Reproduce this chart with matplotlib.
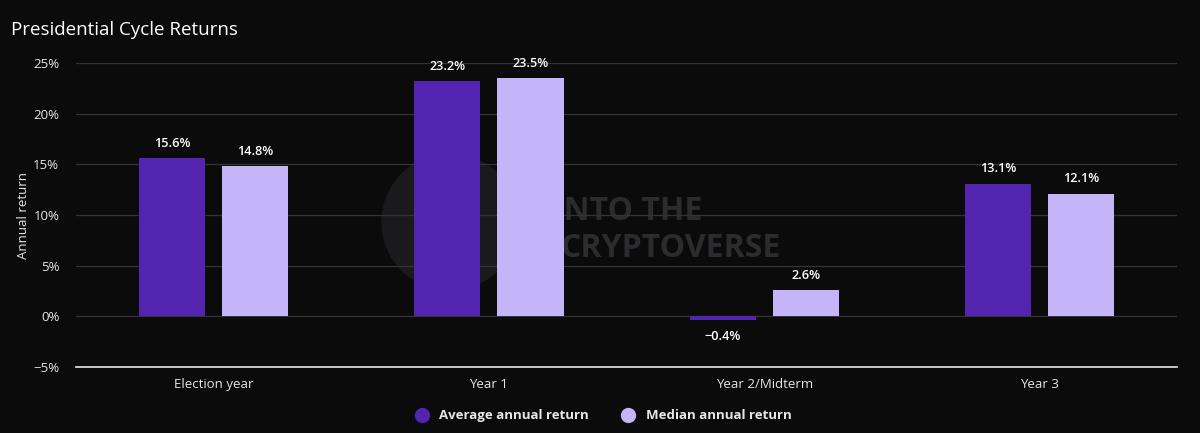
import matplotlib
matplotlib.use("Agg")
import matplotlib.pyplot as plt
from matplotlib.patches import Ellipse
import numpy as np

categories = ["Election year", "Year 1", "Year 2/Midterm", "Year 3"]
average_return = [15.6, 23.2, -0.4, 13.1]
median_return = [14.8, 23.5, 2.6, 12.1]
yticks = [-5, 0, 5, 10, 15, 20, 25]

bg = "#0b0b0c"
c_avg = "#5224b0"
c_med = "#c4b5f8"

plt.rcParams['font.family'] = ['Open Sans', 'DejaVu Sans']

fig = plt.figure(figsize=(12, 4.33), dpi=100, facecolor=bg)
ax = fig.add_axes([0.0633, 0.1524, 0.9177, 0.7021], facecolor=bg)

x = np.arange(len(categories))
w = 0.24
off = 0.151
b1 = ax.bar(x - off, average_return, w, color=c_avg, zorder=3, label="Average annual return")
b2 = ax.bar(x + off, median_return, w, color=c_med, zorder=3, label="Median annual return")

for bars, vals in ((b1, average_return), (b2, median_return)):
    for r, v in zip(bars, vals):
        cx = r.get_x() + r.get_width() / 2
        if v >= 0:
            ax.annotate(f"{v:.1f}%", (cx, v), xytext=(0, 6), textcoords="offset points",
                        ha="center", va="bottom", color="white", fontsize=9.2, fontweight="semibold")
        else:
            ax.annotate(f"\u2212{abs(v):.1f}%", (cx, v), xytext=(0, -7), textcoords="offset points",
                        ha="center", va="top", color="white", fontsize=9.2, fontweight="semibold")

ax.set_xlim(-0.5, len(categories) - 0.5)
ax.set_ylim(-5, 25)
ax.set_yticks(yticks)
ax.set_yticklabels([f"\u2212{abs(t)}%" if t < 0 else f"{t}%" for t in yticks])
ax.set_xticks(x)
ax.set_xticklabels(categories)
ax.tick_params(axis="both", colors="#e6e6e6", labelsize=9.5, length=0)
ax.tick_params(axis="y", pad=12)
ax.tick_params(axis="x", pad=8)
ax.grid(axis="y", color="#333336", linewidth=0.9, zorder=0)
for s in ["top", "right", "left"]:
    ax.spines[s].set_visible(False)
ax.spines["bottom"].set_color("#e6e6e6")
ax.spines["bottom"].set_linewidth(1.2)
ax.spines["bottom"].set_zorder(4)

ax.set_ylabel("Annual return", color="#e6e6e6", fontsize=9.5, labelpad=2)

# watermark
circ = Ellipse((450 / 1200, 1 - 222 / 433), 136 / 1200, 136 / 433, transform=fig.transFigure,
               color="#1a1a1c", zorder=1)
ax.add_patch(circ)
ax.text(0.433, 0.51, "INTO THE", transform=ax.transAxes, color="#2c2c2e", fontsize=23,
        fontweight="bold", ha="left", va="center", zorder=1)
ax.text(0.440, 0.39, "CRYPTOVERSE", transform=ax.transAxes, color="#2c2c2e", fontsize=23,
        fontweight="bold", ha="left", va="center", zorder=1)

fig.text(0.009, 0.93, "Presidential Cycle Returns", color="white", fontsize=13.5, ha="left", va="center")

leg = fig.legend(handles=[plt.Line2D([], [], marker="o", linestyle="", markersize=10, color=c_avg),
                          plt.Line2D([], [], marker="o", linestyle="", markersize=10, color=c_med)],
                 labels=["Average annual return", "Median annual return"],
                 loc="center", bbox_to_anchor=(0.5, 0.04), ncol=2, frameon=False,
                 handletextpad=0.3, columnspacing=2.0, prop={"weight": "bold", "size": 9.5})
for t in leg.get_texts():
    t.set_color("#e6e6e6")

fig.savefig("out.png", dpi=100, facecolor=bg)
